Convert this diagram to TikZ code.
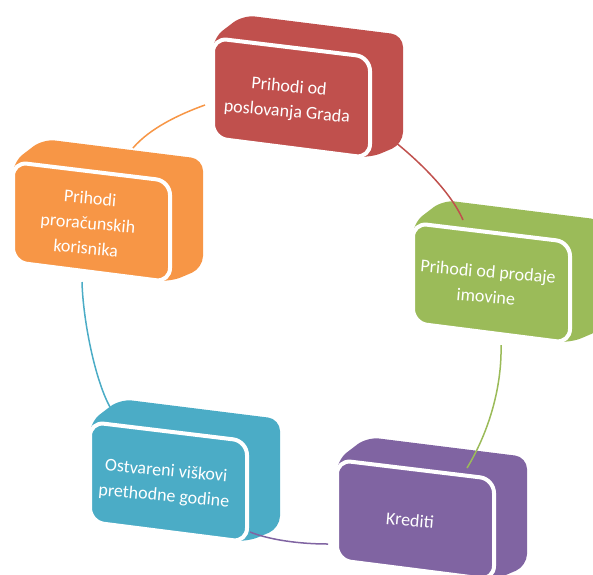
\documentclass[tikz,border=0pt]{standalone}
\usepackage{fontspec}
\setmainfont{Carlito}
\definecolor{cred}{HTML}{C0504D}
\definecolor{corange}{HTML}{F79646}
\definecolor{cgreen}{HTML}{9BBB59}
\definecolor{cpurple}{HTML}{8064A2}
\definecolor{cteal}{HTML}{4BACC6}
\tikzset{
  boxtext/.style={text=white, font=\fontsize{18}{25}\selectfont, align=center, rotate=-5, inner sep=0pt},
  conn/.style={line width=1.5pt},
  backface/.style={fill=#1, rounded corners=12pt},
  frontface/.style={fill=#1, draw=white, line width=4pt, rounded corners=14pt},
}
\newcommand\cubeback[3]{%
  \path[backface=#3, shift={(#1,#2)}] (0,0) -- (30,-23) -- (190,-3) -- (190,106) -- (157,120) -- (0,100) -- cycle;}
\newcommand\cubefront[3]{%
  \path[frontface=#3, shift={(#1,#2)}] (0,0) -- (157,19) -- (157,120) -- (0,100) -- cycle;}
\begin{document}
\begin{tikzpicture}[x=1pt, y=-1pt]
\useasboundingbox (0,0) rectangle (593,574);
% back parts of the boxes
\cubeback{213}{38}{cred}
\cubeback{13}{162}{corange}
\cubeback{413}{223}{cgreen}
\cubeback{337}{460}{cpurple}
\cubeback{90}{422}{cteal}
% connector end points
\coordinate (o1) at (133,148); \coordinate (o2) at (205,105);
\coordinate (r1) at (395,142); \coordinate (r2) at (463,220);
\coordinate (g1) at (501,345); \coordinate (g2) at (467,468);
\coordinate (p1) at (328,544); \coordinate (p2) at (250,532);
\coordinate (t1) at (110,407); \coordinate (t2) at (82,282);
\draw[conn, corange] (o1) .. controls (150,128) and (180,114) .. (o2);
\draw[conn, cred] (r1) .. controls (415,158) and (450,190) .. (r2);
\draw[conn, cgreen] (g1) .. controls (502,385) and (490,430) .. (g2);
\draw[conn, cpurple] (p1) .. controls (300,544) and (270,540) .. (p2);
\draw[conn, cteal] (t1) .. controls (95,380) and (83,320) .. (t2);
% front faces
\cubefront{213}{38}{cred}
\cubefront{13}{162}{corange}
\cubefront{413}{223}{cgreen}
\cubefront{337}{460}{cpurple}
\cubefront{90}{422}{cteal}
% texts
\node[boxtext] (red) at (288,100) {Prihodi od\\poslovanja Grada};
\node[boxtext] (orange) at (88,223) {Prihodi\\proračunskih\\korisnika};
\node[boxtext] (green) at (487,284) {Prihodi od prodaje\\imovine};
\node[boxtext] (purple) at (410,520) {Krediti};
\node[boxtext] (teal) at (165,484) {Ostvareni viškovi\\prethodne godine};
\end{tikzpicture}
\end{document}
